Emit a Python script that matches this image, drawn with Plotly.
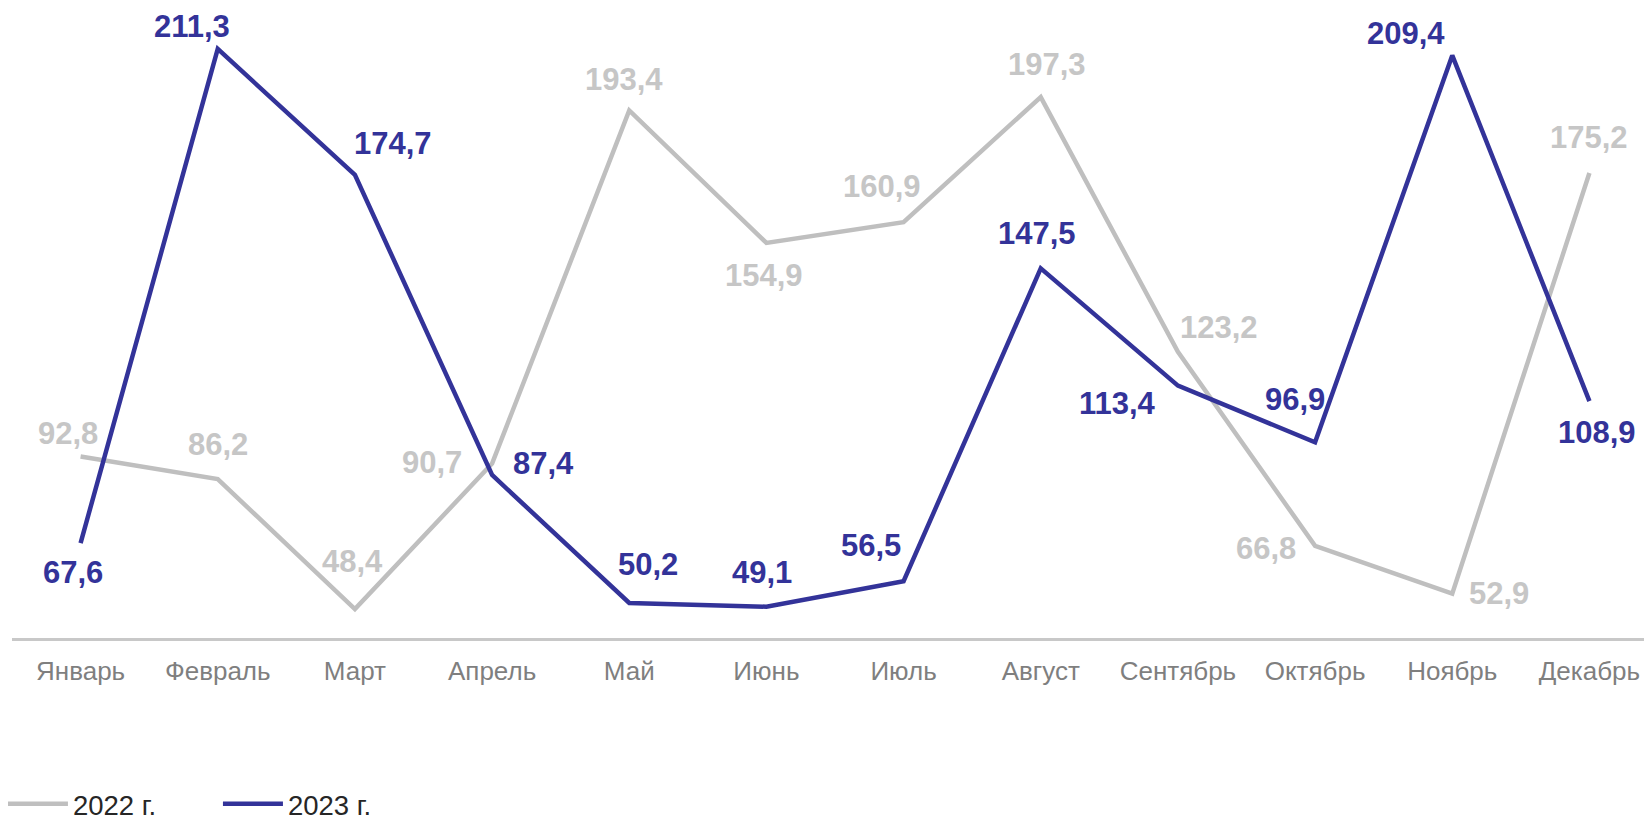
import plotly.graph_objects as go

months = ["Январь", "Февраль", "Март", "Апрель", "Май", "Июнь", "Июль",
          "Август", "Сентябрь", "Октябрь", "Ноябрь", "Декабрь"]
values_2022 = [92.8, 86.2, 48.4, 90.7, 193.4, 154.9, 160.9, 197.3, 123.2, 66.8, 52.9, 175.2]
values_2023 = [67.6, 211.3, 174.7, 87.4, 50.2, 49.1, 56.5, 147.5, 113.4, 96.9, 209.4, 108.9]
series_names = ["2022 г.", "2023 г."]

# label offsets (px) relative to each point: (dx, dy) with dy positive = down
offsets_2022 = [(-13, -23), (0, -35), (-2, -48), (-60, -1), (-5, -31), (-2, 33),
                (-22, -36), (6, -33), (41, -24), (-49, 3), (47, 0), (0, -36)]
offsets_2023 = [(-8, 29), (-26, -22), (38, -31), (51, -12), (19, -38), (-4, -34),
                (-33, -36), (-4, -35), (-60, 18), (-20, -43), (-46, -22), (8, 31)]

GRAY = "#BFBFBF"
GRAY_TXT = "#C6C6C6"
BLUE = "#333399"
FONT = "Liberation Sans, Arial, sans-serif"
LABEL_SIZE = 31

def fmt(v):
    return f"{v:.1f}".replace(".", ",")

fig = go.Figure()
fig.add_trace(go.Scatter(
    x=months, y=values_2022, name=series_names[0], mode="lines",
    line=dict(color=GRAY, width=4.5), cliponaxis=False, hoverinfo="skip",
))
fig.add_trace(go.Scatter(
    x=months, y=values_2023, name=series_names[1], mode="lines",
    line=dict(color=BLUE, width=4.5), cliponaxis=False, hoverinfo="skip",
))

annotations = []
for vals, offs, col in ((values_2022, offsets_2022, GRAY_TXT), (values_2023, offsets_2023, BLUE)):
    for m, v, (dx, dy) in zip(months, vals, offs):
        annotations.append(dict(
            x=m, y=v, xref="x", yref="y", text=f"<b>{fmt(v)}</b>", showarrow=False,
            xanchor="center", yanchor="middle", xshift=dx, yshift=-dy,
            font=dict(family=FONT, size=LABEL_SIZE, color=col),
        ))

fig.update_layout(
    width=1652, height=820,
    margin=dict(l=4, r=2, t=11, b=190, autoexpand=False),
    paper_bgcolor="white", plot_bgcolor="white",
    font=dict(family=FONT, color="#7F7F7F", size=26),
    showlegend=True,
    annotations=annotations,
    legend=dict(orientation="h", x=-0.0055, xanchor="left", y=-0.268, yanchor="middle",
                font=dict(size=27.5, color="#262626"), entrywidth=140, entrywidthmode="pixels",
                itemwidth=60, traceorder="normal", bgcolor="rgba(0,0,0,0)"),
)
fig.update_xaxes(range=[-0.5, 11.5], autorange=False, showgrid=False, showline=True,
                 linecolor="#C8C8C8", linewidth=2.5, ticks="", ticklabelstandoff=8,
                 tickfont=dict(size=26, color="#7F7F7F"), zeroline=False, automargin=False)
fig.update_yaxes(range=[40, 220], autorange=False, showgrid=False, showticklabels=False,
                 zeroline=False, showline=False, automargin=False)

fig.write_html("out.html")
